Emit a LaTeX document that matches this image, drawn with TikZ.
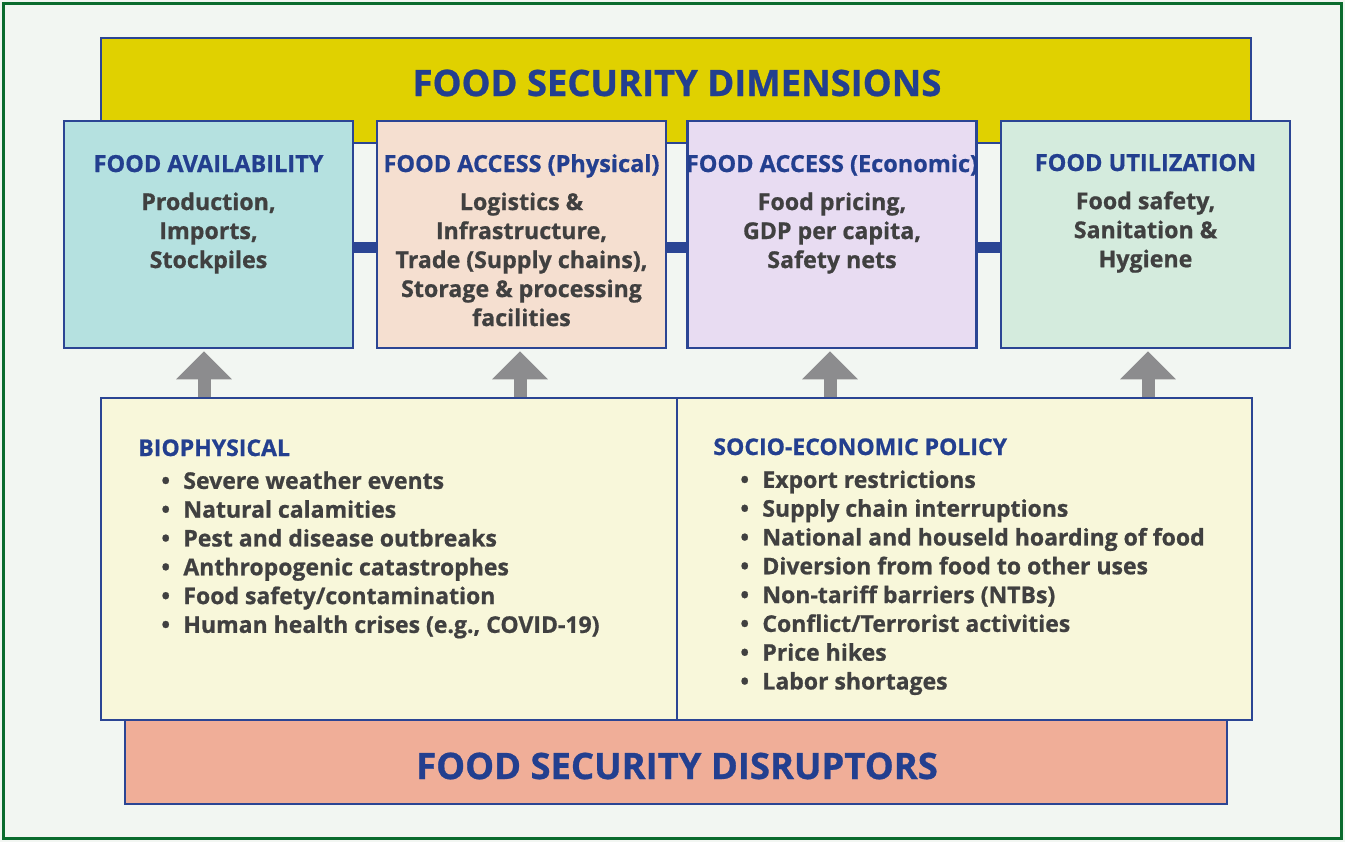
\documentclass[tikz,border=0pt]{standalone}
\usepackage{fontspec}
\setmainfont{Open Sans}[BoldFeatures={FakeBold=0.8}]
\usetikzlibrary{arrows.meta,positioning}
\definecolor{bgcol}{HTML}{F2F6F2}
\definecolor{framegreen}{HTML}{0B6B2E}
\definecolor{navy}{HTML}{2B4594}
\definecolor{headblue}{HTML}{233F8F}
\definecolor{bodygrey}{HTML}{404040}
\definecolor{dimyellow}{HTML}{E0D100}
\definecolor{availcol}{HTML}{B5E1E0}
\definecolor{physcol}{HTML}{F5DFD0}
\definecolor{econcol}{HTML}{E8DCF2}
\definecolor{utilcol}{HTML}{D4EBDD}
\definecolor{discol}{HTML}{F8F7DA}
\definecolor{disruptcol}{HTML}{F0AE98}
\definecolor{arrowgrey}{HTML}{8C8C8E}
\newcommand{\itm}{\makebox[11pt][l]{\textbullet}}
\tikzset{
  dimbox/.style = {draw=navy, line width=1.25pt, minimum width=144.5pt,
    minimum height=113.5pt, inner sep=0pt},
  boxhead/.style = {font=\fontsize{11.75}{14.5}\selectfont\bfseries,
    text=headblue, anchor=base, inner sep=0pt},
  boxbody/.style = {font=\fontsize{11.6}{14.5}\selectfont\bfseries,
    text=bodygrey, align=center, anchor=north, inner sep=0pt},
  bigtitle/.style = {font=\fontsize{18.2}{22}\selectfont\bfseries,
    text=headblue, anchor=base, inner sep=0pt},
  listhead/.style = {font=\fontsize{11.5}{14.4}\selectfont\bfseries,
    text=headblue, anchor=base west, inner sep=0pt},
  listbody/.style = {font=\fontsize{11.5}{14.4}\selectfont\bfseries,
    text=bodygrey, align=left, anchor=north west, inner sep=0pt},
  link/.style = {draw=navy, line width=5.5pt},
  uparrow/.style = {draw=arrowgrey, line width=6.5pt, shorten >=1pt,
    -{Triangle[width=27pt,length=14pt]}}
}
\begin{document}
\begin{tikzpicture}[x=0.5pt,y=-0.5pt]
    \useasboundingbox (0,0) rectangle (1345,842);
    \fill[bgcol] (0,0) rectangle (1345,842);
    \draw[framegreen, line width=1.5pt] (3.5,3.5) rectangle (1341.5,838.5);
    % dimensions
    \path (676,90.5) node[draw=navy, line width=1.25pt, fill=dimyellow,
        minimum width=575pt, minimum height=52.5pt] (dims) {};
    \path (677,96) node[bigtitle] (dimstitle) {FOOD SECURITY DIMENSIONS};
    \path (208.5,234.5) node[dimbox, fill=availcol] (avail) {}
        (521.5,234.5) node[dimbox, fill=physcol] (phys) {}
        (832,234.5) node[dimbox, fill=econcol] (econ) {}
        (1145.5,234.5) node[dimbox, fill=utilcol] (util) {};
    \draw[link] ([yshift=-6.5pt]avail.east) -- ([yshift=-6.5pt]phys.west);
    \draw[link] ([yshift=-6.5pt]phys.east) -- ([yshift=-6.5pt]econ.west);
    \draw[link] ([yshift=-6.5pt]econ.east) -- ([yshift=-6.5pt]util.west);
    \path (208.5,172) node[boxhead] (availhead) {FOOD AVAILABILITY}
        (521.5,172) node[boxhead] (physhead) {FOOD ACCESS (Physical)}
        (832,172) node[boxhead] (econhead) {FOOD ACCESS (Economic)}
        (1145.5,171) node[boxhead] (utilhead) {FOOD UTILIZATION};
    \path (208.5,192) node[boxbody] (availbody) {Production,\\Imports,\\Stockpiles}
        (521.5,192) node[boxbody] (physbody) {Logistics \&\\Infrastructure,\\Trade (Supply chains),\\Storage \& processing\\facilities}
        (832,192) node[boxbody] (econbody) {Food pricing,\\GDP per capita,\\Safety nets}
        (1145.5,191) node[boxbody] (utilbody) {Food safety,\\Sanitation \&\\Hygiene};
    % disruptors
    \path (676,762) node[draw=navy, line width=1.25pt, fill=disruptcol,
        minimum width=551pt, minimum height=42pt] (disrupt) {};
    \path (677,779) node[bigtitle] (disrupttitle) {FOOD SECURITY DISRUPTORS};
    \path (389,559) node[draw=navy, line width=1.25pt, fill=discol,
        minimum width=288pt, minimum height=161pt] (bio) {}
        (964.5,559) node[draw=navy, line width=1.25pt, fill=discol,
        minimum width=287.5pt, minimum height=161pt] (socio) {};
    \draw[uparrow] ([xshift=-2.25pt]avail.south |- bio.north) -- ([xshift=-2.25pt]avail.south);
    \draw[uparrow] ([xshift=-0.75pt]phys.south |- bio.north) -- ([xshift=-0.75pt]phys.south);
    \draw[uparrow] ([xshift=-1pt]econ.south |- socio.north) -- ([xshift=-1pt]econ.south);
    \draw[uparrow] ([xshift=1.25pt]util.south |- socio.north) -- ([xshift=1.25pt]util.south);
    \path (138,456) node[listhead] (biohead) {BIOPHYSICAL}
        (713,455) node[listhead] (sociohead) {SOCIO-ECONOMIC POLICY};
    \path (161,471) node[listbody] (biolist) {\itm Severe weather events\\
        \itm Natural calamities\\
        \itm Pest and disease outbreaks\\
        \itm Anthropogenic catastrophes\\
        \itm Food safety/contamination\\
        \itm Human health crises (e.g., COVID-19)};
    \path (740,470) node[listbody] (sociolist) {\itm Export restrictions\\
        \itm Supply chain interruptions\\
        \itm National and houseld hoarding of food\\
        \itm Diversion from food to other uses\\
        \itm Non-tariff barriers (NTBs)\\
        \itm Conflict/Terrorist activities\\
        \itm Price hikes\\
        \itm Labor shortages};
\end{tikzpicture}
\end{document}
